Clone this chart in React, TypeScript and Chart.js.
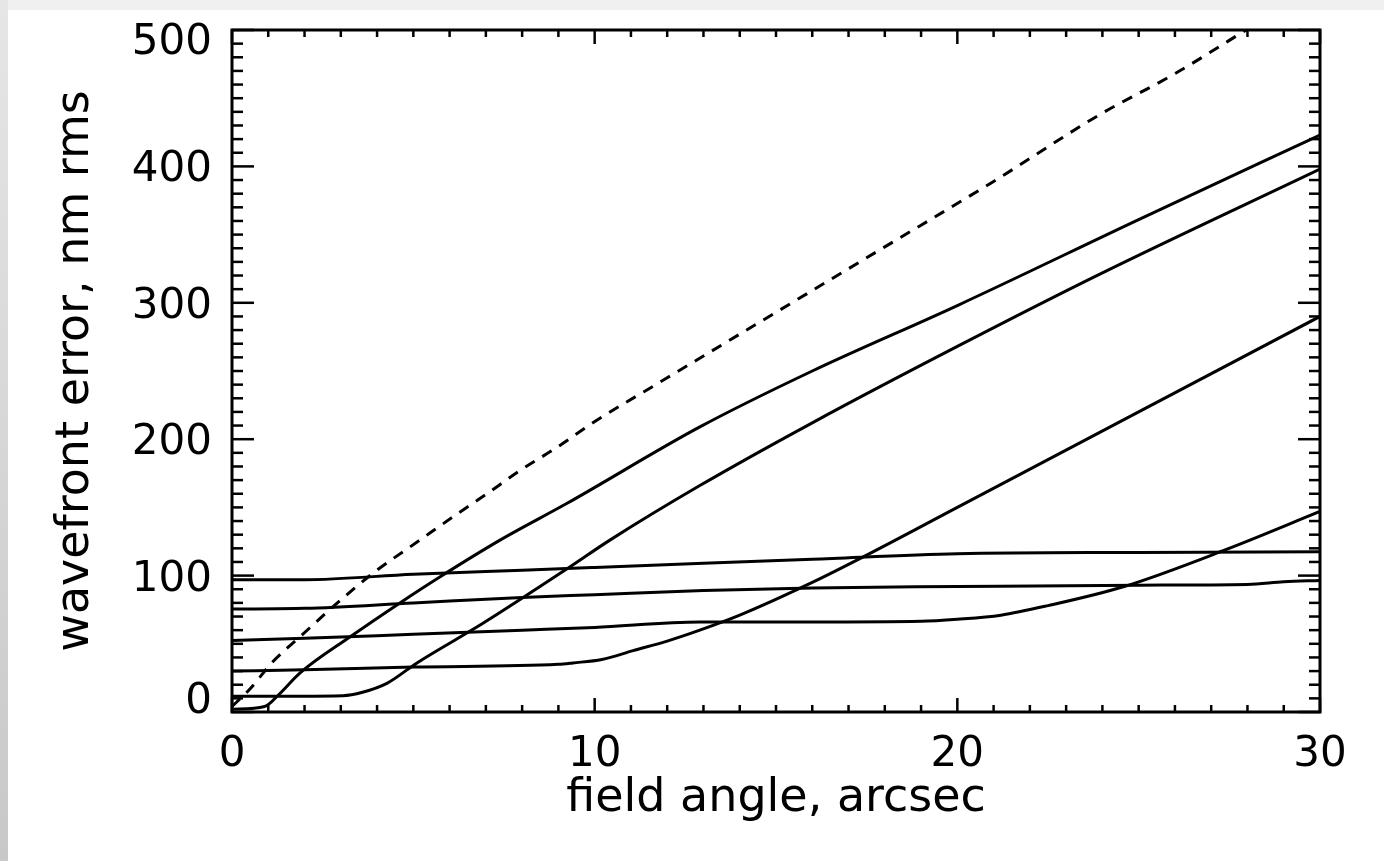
import React, { useEffect, useRef } from 'react';
import { Chart, registerables } from 'chart.js';

Chart.register(...registerables);

// ---- data ----
const dashedX = [0, 0.5, 1.13, 1.87, 2.78, 3.9, 5.18, 6.09, 7.03, 7.94, 8.96, 9.95, 12, 15, 18, 21, 23.93, 26, 28.2];
const dashedY = [4, 17, 37, 55, 77, 102, 126, 143, 160, 177, 194, 212, 245, 293, 341, 389, 438, 468, 504];

const c1X = [0, 0.9, 1.3, 1.87, 3.25, 4.63, 5.73, 7.39, 9.24, 12.9, 16, 20, 25, 30];
const c1Y = [2, 4, 13, 28.5, 55, 80, 99, 126, 153, 209, 250, 298, 361, 423];

const c2X = [0, 3.06, 3.6, 4.27, 5.1, 6.92, 9.24, 10.42, 12.9, 16, 20, 23.93, 30];
const c2Y = [11.5, 12, 14.5, 21, 36, 65, 105, 126, 166, 212, 268, 321, 398];

const c3X = [0, 2, 5, 9, 9.4, 10.2, 11.06, 12, 12.9, 14, 16, 17.5, 20, 25, 30];
const c3Y = [30, 31, 33, 35, 36, 38.5, 45, 52, 60, 71, 95, 115, 150, 220, 290];

const c4X = [0, 2, 5, 8, 10, 12.9, 16, 19, 20, 21.2, 22.5, 24.6, 27.4, 30];
const c4Y = [52.5, 54, 57, 60, 62, 66, 66, 66.5, 68, 71, 78, 92, 119, 147];

const c5X = [0, 2, 5, 8, 10, 13, 16, 20, 25, 28, 29, 30];
const c5Y = [75.5, 76, 80, 84, 86, 89, 91, 92, 93, 93.5, 95.5, 96.5];

const c6X = [0, 2, 5, 8, 10, 13, 16, 20, 25, 30];
const c6Y = [97, 97, 101, 104, 106, 109, 112, 116, 117, 117.5];

const xTicks = [0, 10, 20, 30];
const yTicks = [0, 100, 200, 300, 400, 500];
const xMinorStep = 1;
const yMinorStep = 10;

const xTitle = 'field angle, arcsec';
const yTitle = 'wavefront error, nm rms';

const FONT = 'DejaVu Sans';

const toPts = (xs: number[], ys: number[]) => xs.map((x, i) => ({ x, y: ys[i] }));

const framePlugin = {
  id: 'idlFrame',
  afterDatasetsDraw(chart: any) {
    const { ctx, chartArea: a, scales } = chart;
    const xs = scales.x;
    const ys = scales.y;
    ctx.save();
    ctx.strokeStyle = '#000';
    ctx.lineCap = 'butt';
    ctx.setLineDash([]);
    const seg = (x1: number, y1: number, x2: number, y2: number) => {
      ctx.beginPath();
      ctx.moveTo(x1, y1);
      ctx.lineTo(x2, y2);
      ctx.stroke();
    };
    ctx.lineWidth = 2.5;
    for (let v = xs.min; v <= xs.max + 1e-9; v += xMinorStep) {
      const px = xs.getPixelForValue(v);
      const major = xTicks.includes(Math.round(v));
      const len = major ? 14 : 7;
      seg(px, a.bottom, px, a.bottom - len);
      seg(px, a.top, px, a.top + len);
    }
    for (let v = ys.min; v <= ys.max + 1e-9; v += yMinorStep) {
      const py = ys.getPixelForValue(v);
      const major = yTicks.includes(Math.round(v));
      const len = major ? 22 : 11;
      seg(a.left, py, a.left + len, py);
      seg(a.right, py, a.right - len, py);
    }
    ctx.lineWidth = 3;
    ctx.strokeRect(a.left, a.top, a.right - a.left, a.bottom - a.top);

    // y tick labels (kept inside the frame at the ends, as in the reference)
    ctx.fillStyle = '#000';
    ctx.font = `42px "${FONT}"`;
    ctx.textAlign = 'right';
    ctx.textBaseline = 'alphabetic';
    ys.ticks.forEach((t: any) => {
      const py = ys.getPixelForValue(t.value);
      let base = py + 15;
      base = Math.max(a.top + 24, Math.min(a.bottom + 1, base));
      ctx.fillText(String(t.value), a.left - 20, base);
    });
    ctx.restore();
  },
};

export default function App() {
  const ref = useRef<HTMLCanvasElement>(null);

  useEffect(() => {
    const line = (xs: number[], ys: number[], dashed = false) => ({
      data: toPts(xs, ys),
      borderColor: '#000',
      borderWidth: 3,
      borderDash: dashed ? [11, 9] : [],
      pointRadius: 0,
      fill: false,
      cubicInterpolationMode: 'monotone' as const,
    });

    const chart = new Chart(ref.current as HTMLCanvasElement, {
      type: 'line',
      data: {
        datasets: [
          line(dashedX, dashedY, true),
          line(c1X, c1Y),
          line(c2X, c2Y),
          line(c3X, c3Y),
          line(c4X, c4Y),
          line(c5X, c5Y),
          line(c6X, c6Y),
        ] as any,
      },
      options: {
        animation: false,
        responsive: false,
        devicePixelRatio: 1,
        layout: { padding: { left: 0, top: 30, right: 64, bottom: 0 } },
        plugins: { legend: { display: false }, tooltip: { enabled: false } },
        scales: {
          x: {
            type: 'linear',
            min: 0,
            max: 30,
            afterBuildTicks: (s: any) => {
              s.ticks = xTicks.map((v) => ({ value: v }));
            },
            afterFit: (s: any) => {
              s.height = 149;
            },
            grid: { display: false, drawTicks: false },
            border: { display: false },
            ticks: {
              color: '#000',
              font: { family: FONT, size: 42 },
              padding: 18,
              maxRotation: 0,
              autoSkip: false,
            },
            title: {
              display: true,
              text: xTitle,
              color: '#000',
              font: { family: FONT, size: 46 },
              padding: { top: 0, bottom: 34 },
            },
          },
          y: {
            type: 'linear',
            min: 0,
            max: 500,
            afterBuildTicks: (s: any) => {
              s.ticks = yTicks.map((v) => ({ value: v }));
            },
            afterFit: (s: any) => {
              s.width = 232;
            },
            grid: { display: false, drawTicks: false },
            border: { display: false },
            ticks: { display: false },
            title: {
              display: true,
              text: yTitle,
              color: '#000',
              font: { family: FONT, size: 46 },
              padding: { top: 48, bottom: 0 },
            },
          },
        },
      },
      plugins: [framePlugin],
    });
    return () => chart.destroy();
  }, []);

  return (
    <div
      style={{
        position: 'fixed',
        left: 0,
        top: 0,
        width: 1384,
        height: 861,
        background: '#f0f0f0',
        overflow: 'hidden',
      }}
    >
      <div
        style={{
          position: 'absolute',
          left: 0,
          top: 0,
          width: 8,
          height: 861,
          background: 'linear-gradient(#e6e6e6, #c8c8c8)',
        }}
      />
      <div style={{ position: 'absolute', left: 8, top: 10, right: 0, bottom: 0, background: '#fff' }} />
      <canvas
        ref={ref}
        width={1384}
        height={861}
        style={{ position: 'absolute', left: 0, top: 0, width: 1384, height: 861 }}
      />
    </div>
  );
}
